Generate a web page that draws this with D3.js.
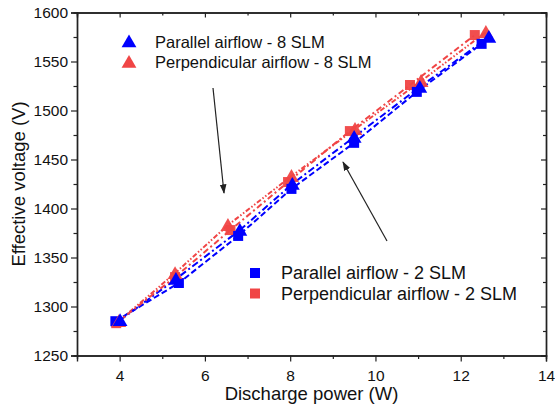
<!DOCTYPE html>
<html lang="en">
<head>
    <meta charset="UTF-8">
    <title>Effective voltage vs discharge power</title>
    <script src="https://d3js.org/d3.v7.min.js"></script>
    <style>
        body { margin: 0; background: #fff; }
        text { font-family: "Liberation Sans", Arial, sans-serif; fill: #111; }
    </style>
</head>
<body>
    <div id="my_dataviz"></div>
    <script>
        // data
        var par8X  = [4.01, 5.32, 6.82, 8.05, 9.50, 11.04, 12.66];
        var par8Y  = [1286, 1328, 1378, 1425, 1473, 1524, 1575];
        var perp8X = [3.98, 5.30, 6.54, 8.03, 9.52, 11.07, 12.59];
        var perp8Y = [1285, 1334, 1383, 1433, 1481, 1530, 1580];
        var par2X  = [3.90, 5.39, 6.78, 8.03, 9.50, 10.97, 12.49];
        var par2Y  = [1285, 1324, 1372, 1420, 1467, 1519, 1568];
        var perp2X = [3.92, 5.30, 6.60, 7.95, 9.40, 10.81, 12.33];
        var perp2Y = [1283, 1330, 1378, 1427, 1479, 1526, 1577];

        var xMajor = [4, 6, 8, 10, 12, 14];
        var xMinor = [5, 7, 9, 11, 13];
        var yMajor = [1250, 1300, 1350, 1400, 1450, 1500, 1550, 1600];
        var yMinor = [1275, 1325, 1375, 1425, 1475, 1525, 1575];

        var blue = "#0000ff", red = "#f04545";

        var series = [
            {name: "Parallel airflow - 8 SLM", xs: par8X, ys: par8Y, color: blue, shape: "tri", dash: "7,3,2,3"},
            {name: "Perpendicular airflow - 8 SLM", xs: perp8X, ys: perp8Y, color: red, shape: "tri", dash: "5,2,1.5,2,1.5,2"},
            {name: "Parallel airflow - 2 SLM", xs: par2X, ys: par2Y, color: blue, shape: "sq", dash: "6,3"},
            {name: "Perpendicular airflow - 2 SLM", xs: perp2X, ys: perp2Y, color: red, shape: "sq", dash: "6,3,2,3"}
        ];

        var margin = {top: 12.5, right: 9, bottom: 49.5, left: 77},
            width = 555 - margin.left - margin.right,
            height = 405 - margin.top - margin.bottom;

        var svg = d3.select("#my_dataviz")
          .append("svg")
            .attr("width", 555)
            .attr("height", 405)
          .append("g")
            .attr("transform", "translate(" + margin.left + "," + margin.top + ")");

        var x = d3.scaleLinear().domain([3, 14]).range([0, width]);
        var y = d3.scaleLinear().domain([1250, 1600]).range([height, 0]);

        function styleAxis(g) {
            g.select(".domain").attr("stroke", "#222").attr("stroke-width", 1.4);
            g.selectAll(".tick line").attr("stroke", "#222").attr("stroke-width", 1.2);
            g.selectAll(".tick text").style("font-size", "15.5px").attr("fill", "#111");
        }

        // bottom axis
        svg.append("g")
            .attr("transform", "translate(0," + height + ")")
            .call(d3.axisBottom(x).tickValues(xMajor).tickSize(6).tickPadding(8).tickFormat(d3.format("d")))
            .call(styleAxis);
        svg.append("g")
            .attr("transform", "translate(0," + height + ")")
            .call(d3.axisBottom(x).tickValues(xMinor).tickSize(3.5).tickFormat(""))
            .call(styleAxis);
        // top axis (mirror, inward ticks)
        svg.append("g")
            .call(d3.axisBottom(x).tickValues(xMajor).tickSize(5).tickFormat(""))
            .call(styleAxis);
        svg.append("g")
            .call(d3.axisBottom(x).tickValues(xMinor).tickSize(3).tickFormat(""))
            .call(styleAxis);

        // left axis
        svg.append("g")
            .call(d3.axisLeft(y).tickValues(yMajor).tickSize(6).tickPadding(3).tickFormat(d3.format("d")))
            .call(styleAxis);
        svg.append("g")
            .call(d3.axisLeft(y).tickValues(yMinor).tickSize(3.5).tickFormat(""))
            .call(styleAxis);
        // right axis (mirror, inward ticks)
        svg.append("g")
            .attr("transform", "translate(" + width + ",0)")
            .call(d3.axisLeft(y).tickValues(yMajor).tickSize(5).tickFormat(""))
            .call(styleAxis);
        svg.append("g")
            .attr("transform", "translate(" + width + ",0)")
            .call(d3.axisLeft(y).tickValues(yMinor).tickSize(3).tickFormat(""))
            .call(styleAxis);

        // lines through each series
        series.forEach(function(s) {
            var pts = s.xs.map(function(v, i) { return [v, s.ys[i]]; });
            svg.append("path")
                .datum(pts)
                .attr("fill", "none")
                .attr("stroke", s.color)
                .attr("stroke-width", 2)
                .attr("stroke-dasharray", s.dash)
                .attr("d", d3.line().x(function(d) { return x(d[0]); }).y(function(d) { return y(d[1]); }));
        });

        var triSym = d3.symbol().type(d3.symbolTriangle).size(95);
        var sqSym = d3.symbol().type(d3.symbolSquare).size(100);

        // markers: squares then triangles
        [series[3], series[2], series[1], series[0]].forEach(function(s) {
            svg.append("g")
                .selectAll("path")
                .data(s.xs.map(function(v, i) { return [v, s.ys[i]]; }))
                .enter()
                .append("path")
                  .attr("d", s.shape == "tri" ? triSym : sqSym)
                  .attr("transform", function(d) { return "translate(" + x(d[0]) + "," + (y(d[1]) + (s.shape == "tri" ? 1.5 : 0)) + ")"; })
                  .style("fill", s.color)
                  .style("opacity", s.color == red ? 0.95 : 1);
        });

        // legends
        function legend(items, lx, ly, fs) {
            items.forEach(function(s, i) {
                var cy = ly + i * 20.5;
                svg.append("path")
                    .attr("d", s.shape == "tri" ? triSym : sqSym)
                    .attr("transform", "translate(" + (lx - margin.left) + "," + (cy - margin.top + (s.shape == "tri" ? 1 : 0)) + ")")
                    .style("fill", s.color);
                svg.append("text")
                    .attr("x", lx - margin.left + 26)
                    .attr("y", cy - margin.top)
                    .attr("dy", "0.35em")
                    .style("font-size", fs)
                    .text(s.name);
            });
        }
        legend([series[0], series[1]], 129, 42, "16.5px");
        legend([series[2], series[3]], 255, 273, "18px");

        // arrows
        var defs = svg.append("defs");
        defs.append("marker")
            .attr("id", "ah")
            .attr("viewBox", "0 0 10 10")
            .attr("refX", 9).attr("refY", 5)
            .attr("markerWidth", 8).attr("markerHeight", 8)
            .attr("orient", "auto")
          .append("path")
            .attr("d", "M0,1.5 L10,5 L0,8.5 Z")
            .attr("fill", "#222");
        svg.append("line")
            .attr("x1", 213 - margin.left).attr("y1", 88 - margin.top)
            .attr("x2", 224 - margin.left).attr("y2", 193 - margin.top)
            .attr("stroke", "#222").attr("stroke-width", 1.2)
            .attr("marker-end", "url(#ah)");
        svg.append("line")
            .attr("x1", 387 - margin.left).attr("y1", 241 - margin.top)
            .attr("x2", 343 - margin.left).attr("y2", 162 - margin.top)
            .attr("stroke", "#222").attr("stroke-width", 1.2)
            .attr("marker-end", "url(#ah)");

        // axis titles
        svg.append("text")
            .attr("x", width / 2)
            .attr("y", height + 44)
            .style("text-anchor", "middle")
            .style("font-size", "18.5px")
            .text("Discharge power (W)");

        svg.append("text")
            .attr("transform", "rotate(-90)")
            .attr("x", -height / 2)
            .attr("y", -52)
            .style("text-anchor", "middle")
            .style("font-size", "18.5px")
            .text("Effective voltage (V)");
    </script>
</body>
</html>
